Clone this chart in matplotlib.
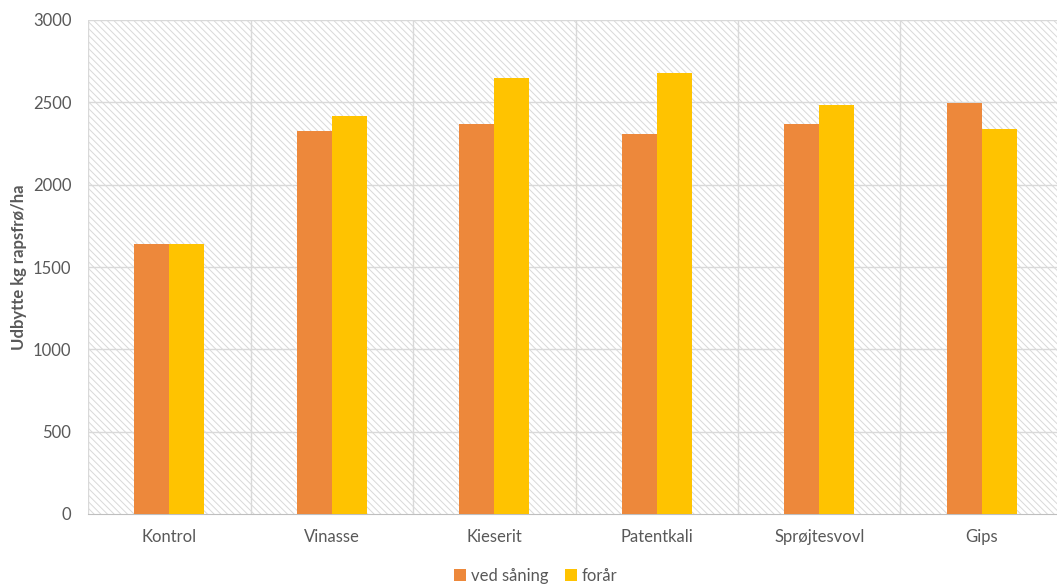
import numpy as np
import matplotlib.pyplot as plt
from matplotlib.patches import Rectangle

kategorier = ["Kontrol", "Vinasse", "Kieserit", "Patentkali", "Sprøjtesvovl", "Gips"]
ved_saaning = [1640, 2326, 2368, 2308, 2368, 2496]
foraar = [1640, 2417, 2648, 2678, 2484, 2338]
serier = ["ved såning", "forår"]

plt.rcParams['font.family'] = ['Lato', 'DejaVu Sans']
plt.rcParams['hatch.linewidth'] = 0.7

grid_farve = "#d9d9d9"
tekst_farve = "#595959"

fig = plt.figure(figsize=(10.57, 5.85), dpi=100)
ax = fig.add_axes([88 / 1057, 71 / 585, 1 - 88 / 1057, 494 / 585])

# skraveret baggrund
baggrund = Rectangle((0, 0), 1, 1, transform=ax.transAxes, facecolor="white",
                     edgecolor=grid_farve, hatch="\\\\\\\\\\", linewidth=0, zorder=0)
ax.add_patch(baggrund)

x = np.arange(len(kategorier))
b = 0.215
ax.bar(x - b / 2, ved_saaning, b, color="#ed883b", label=serier[0], zorder=3)
ax.bar(x + b / 2, foraar, b, color="#ffc300", label=serier[1], zorder=3)

ax.set_ylim(0, 3000)
ax.set_yticks(np.arange(0, 3001, 500))
ax.set_xlim(-0.5, 5.5 - 6 / 162.5)
ax.set_xticks(x)
ax.set_xticklabels(kategorier)

for y in np.arange(500, 3001, 500):
    ax.axhline(y, color=grid_farve, linewidth=1, zorder=1)
for xv in np.arange(-0.5, 5.5, 1):
    ax.axvline(xv, color=grid_farve, linewidth=1, zorder=1)

for s in ["top", "right", "left"]:
    ax.spines[s].set_visible(False)
ax.spines["bottom"].set_color("#bfbfbf")
ax.tick_params(length=0, labelsize=12, labelcolor=tekst_farve)
ax.tick_params(axis="y", pad=12)
ax.tick_params(axis="x", pad=11)
ax.set_ylabel("Udbytte kg rapsfrø/ha", fontsize=12, fontweight="bold", color=tekst_farve, labelpad=4)

leg = fig.legend(loc="center", bbox_to_anchor=(0.507, 0.016), ncol=2, frameon=False,
                 fontsize=12, handlelength=0.7, handleheight=0.7, handletextpad=0.3, columnspacing=1.0)
for t in leg.get_texts():
    t.set_color(tekst_farve)

plt.savefig("out.png", dpi=100)
